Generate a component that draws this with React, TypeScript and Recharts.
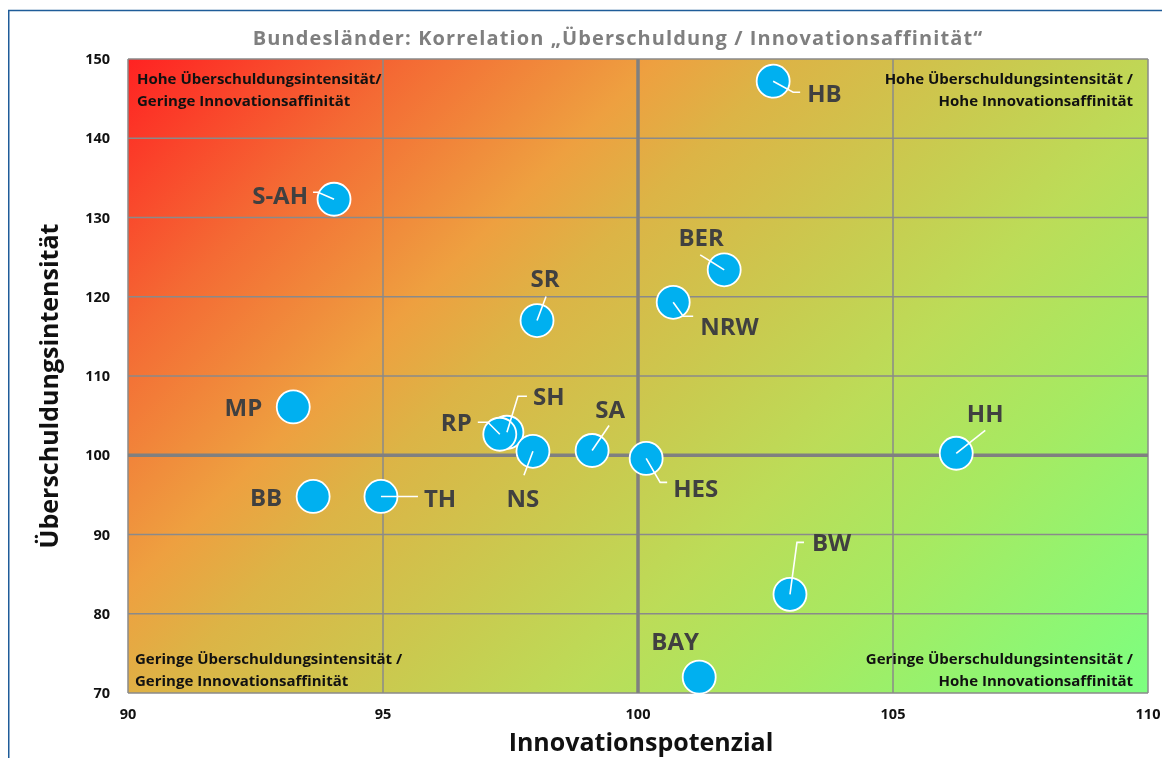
import React from "react";
import { ScatterChart, Scatter, XAxis, YAxis, CartesianGrid, ReferenceLine } from "recharts";

const stateNames = ["HB", "S-AH", "BER", "NRW", "SR", "MP", "SH", "RP", "NS", "SA", "HES", "HH", "BB", "TH", "BW", "BAY"];
const innovationValues = [102.65, 94.04, 101.69, 100.69, 98.02, 93.24, 97.43, 97.29, 97.94, 99.1, 100.16, 106.24, 93.63, 94.96, 102.98, 101.2];
const debtValues = [147.2, 132.3, 123.4, 119.3, 117.0, 106.1, 102.9, 102.65, 100.5, 100.6, 99.6, 100.25, 94.8, 94.8, 82.45, 72.0];
const xTicks = [90, 95, 100, 105, 110];
const yTicks = [70, 80, 90, 100, 110, 120, 130, 140, 150];

const data = stateNames.map((name, i) => ({ name, x: innovationValues[i], y: debtValues[i] }));

// label layout (relative offsets from marker center)
type LabelLayout = { dx: number; dy: number; anchor: "start" | "middle" | "end"; leader?: number[][] };
const labelLayout: Record<string, LabelLayout> = {
  HB: { dx: 34, dy: 11, anchor: "start", leader: [[0, 0], [20, 11], [27, 11]] },
  "S-AH": { dx: -26, dy: -5, anchor: "end", leader: [[0, 0], [-16, -7], [-21, -7]] },
  BER: { dx: -23, dy: -33, anchor: "middle", leader: [[0, 0], [-24, -15]] },
  NRW: { dx: 27, dy: 23, anchor: "start", leader: [[0, 0], [10, 14], [20, 14]] },
  SR: { dx: 8, dy: -43, anchor: "middle", leader: [[0, 0], [9, -24]] },
  MP: { dx: -31, dy: 0, anchor: "end" },
  RP: { dx: -28, dy: -13, anchor: "end", leader: [[0, 0], [-12, -12], [-22, -12]] },
  SH: { dx: 26, dy: -37, anchor: "start", leader: [[0, 0], [11, -36], [20, -36]] },
  NS: { dx: -10, dy: 46, anchor: "middle", leader: [[0, 0], [-9, 24]] },
  SA: { dx: 18, dy: -42, anchor: "middle", leader: [[0, 0], [17, -25]] },
  HES: { dx: 27, dy: 29, anchor: "start", leader: [[0, 0], [14, 24], [21, 24]] },
  HH: { dx: 29, dy: -41, anchor: "middle", leader: [[0, 0], [29, -23]] },
  BB: { dx: -31, dy: 0, anchor: "end" },
  TH: { dx: 43, dy: 1, anchor: "start", leader: [[0, 0], [37, 0]] },
  BW: { dx: 22, dy: -53, anchor: "start", leader: [[0, 0], [7, -52], [14, -52]] },
  BAY: { dx: -24, dy: -37, anchor: "middle" },
};

const FONT = "'Open Sans', 'DejaVu Sans', sans-serif";

const Marker = (props: any) => {
  const { cx, cy } = props;
  if (cx == null || cy == null) return null;
  return <circle cx={cx} cy={cy} r={16.5} fill="#00b0f0" stroke="#ffffff" strokeWidth={1.8} />;
};

const LabelShape = (props: any) => {
  const { cx, cy, payload } = props;
  if (cx == null || cy == null || !payload) return null;
  const l = labelLayout[payload.name];
  if (!l) return null;
  return (
    <g>
      {l.leader && (
        <polyline
          points={l.leader.map((p) => `${cx + p[0]},${cy + p[1]}`).join(" ")}
          fill="none"
          stroke="#ffffff"
          strokeWidth={1.6}
        />
      )}
      <text
        x={cx + l.dx}
        y={cy + l.dy}
        textAnchor={l.anchor}
        dominantBaseline="central"
        fontFamily={FONT}
        fontWeight={700}
        fontSize={24}
        fill="#404040"
      >
        {payload.name}
      </text>
    </g>
  );
};

export default function App() {
  const W = 1154;
  const H = 750;
  const cornerStyle = { fontFamily: FONT, fontWeight: 700, fontSize: 15, fill: "#111111" } as const;
  const tickStyle = { fontFamily: FONT, fontWeight: 700, fontSize: 14.5, fill: "#111111" };
  return (
    <div style={{ position: "fixed", left: 8, top: 8, width: W, height: H, overflow: "visible" }}>
      <ScatterChart width={W} height={H} margin={{ top: 51, right: 14, bottom: 25, left: 0 }} style={{ overflow: "visible" }}>
        <defs>
          <linearGradient id="bgGrad" gradientUnits="userSpaceOnUse" x1={120} y1={51} x2={947} y2={878}>
            <stop offset="0" stopColor="#ff2222" />
            <stop offset="0.17" stopColor="#f46a34" />
            <stop offset="0.32" stopColor="#eea040" />
            <stop offset="0.4" stopColor="#dcb446" />
            <stop offset="0.55" stopColor="#c8cc50" />
            <stop offset="0.65" stopColor="#bcdc58" />
            <stop offset="0.78" stopColor="#a6ea62" />
            <stop offset="1" stopColor="#7cff80" />
          </linearGradient>
        </defs>
        <CartesianGrid fill="url(#bgGrad)" fillOpacity={1} stroke="#8a8a8a" strokeWidth={1.5} horizontalValues={yTicks} verticalValues={xTicks} />
        <XAxis
          type="number"
          dataKey="x"
          domain={[90, 110]}
          ticks={xTicks}
          axisLine={false}
          tickLine={false}
          tickSize={0}
          tickMargin={16}
          height={40}
          tick={tickStyle}
          interval={0}
        />
        <YAxis
          type="number"
          dataKey="y"
          domain={[70, 150]}
          ticks={yTicks}
          axisLine={false}
          tickLine={false}
          tickSize={0}
          tickMargin={18}
          width={120}
          tick={tickStyle}
          interval={0}
        />
        <ReferenceLine x={100} stroke="#808080" strokeWidth={3.5} />
        <ReferenceLine y={100} stroke="#808080" strokeWidth={3.5} />
        <Scatter data={data} shape={Marker} isAnimationActive={false} />
        <Scatter data={data} shape={LabelShape} isAnimationActive={false} />
      </ScatterChart>
      <svg width={W} height={H} style={{ position: "absolute", left: 0, top: 0, pointerEvents: "none" }}>
        <line x1={0} y1={2.5} x2={W} y2={2.5} stroke="#1f5c99" strokeWidth={1.5} />
        <line x1={0.75} y1={2} x2={0.75} y2={H} stroke="#1f5c99" strokeWidth={1.5} />
        <text x={610} y={29} textAnchor="middle" dominantBaseline="central" fontFamily={FONT} fontWeight={700} fontSize={20} letterSpacing={1.1} fill="#7f7f7f">
          Bundesländer: Korrelation „Überschuldung / Innovationsaffinität“
        </text>
        <text x={129} y={70} dominantBaseline="central" {...cornerStyle}>Hohe Überschuldungsintensität/</text>
        <text x={129} y={92} dominantBaseline="central" {...cornerStyle}>Geringe Innovationsaffinität</text>
        <text x={1125} y={70} textAnchor="end" dominantBaseline="central" {...cornerStyle}>Hohe Überschuldungsintensität /</text>
        <text x={1125} y={92} textAnchor="end" dominantBaseline="central" {...cornerStyle}>Hohe Innovationsaffinität</text>
        <text x={127} y={650} dominantBaseline="central" {...cornerStyle}>Geringe Überschuldungsintensität /</text>
        <text x={127} y={672} dominantBaseline="central" {...cornerStyle}>Geringe Innovationsaffinität</text>
        <text x={1125} y={650} textAnchor="end" dominantBaseline="central" {...cornerStyle}>Geringe Überschuldungsintensität /</text>
        <text x={1125} y={672} textAnchor="end" dominantBaseline="central" {...cornerStyle}>Hohe Innovationsaffinität</text>
        <text x={633} y={733} textAnchor="middle" dominantBaseline="central" fontFamily={FONT} fontWeight={700} fontSize={25} fill="#111111">
          Innovationspotenzial
        </text>
        <text
          x={40}
          y={378}
          textAnchor="middle"
          dominantBaseline="central"
          transform="rotate(-90 40 378)"
          fontFamily={FONT}
          fontWeight={700}
          fontSize={25}
          fill="#111111"
        >
          Überschuldungsintensität
        </text>
      </svg>
    </div>
  );
}
